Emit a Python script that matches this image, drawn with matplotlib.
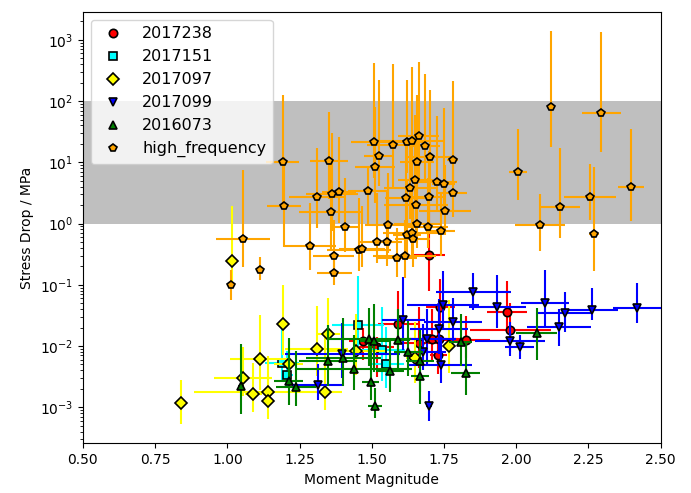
import numpy as np
import matplotlib
matplotlib.use("Agg")
import matplotlib.pyplot as plt

# --- data (magnitude, stress drop MPa, mag error, log10 error down/up) ---
r_mag = [1.699, 1.471, 1.517, 1.592, 1.664, 1.707, 1.733, 1.730, 1.737, 1.828, 1.969, 1.979]
r_sd = [0.31, 0.012, 0.0097, 0.0225, 0.011, 0.0128, 0.013, 0.007, 0.044, 0.0125, 0.0358, 0.018]
r_xerr = [0.055, 0.05, 0.06, 0.07, 0.08, 0.09, 0.1, 0.03, 0.05, 0.08, 0.07, 0.14]
r_dn = [0.60, 0.31, 0.49, 0.45, 0.4, 0.35, 0.4, 0.3, 0.3, 0.3, 0.3, 0.35]
r_up = [0.81, 0.21, 0.16, 0.55, 0.6, 0.5, 0.55, 0.45, 0.45, 0.4, 0.5, 0.45]

c_mag = [1.453, 1.189, 1.207, 1.535, 1.551]
c_sd = [0.0222, 0.0052, 0.0033, 0.0086, 0.0051]
c_xerr = [0.09, 0.06, 0.02, 0.08, 0.06]
c_dn = [0.5, 0.3, 0.2, 0.5, 0.4]
c_up = [0.8, 0.6, 0.4, 0.7, 0.6]

y_mag = [0.840, 1.017, 1.191, 1.349, 1.309, 1.445, 1.113, 1.212, 1.053, 1.090, 1.142, 1.142, 1.338, 1.648, 1.766]
y_sd = [0.00118, 0.241, 0.0225, 0.0155, 0.0090, 0.0084, 0.0061, 0.0051, 0.0030, 0.00164, 0.00175, 0.00127, 0.00177, 0.0063, 0.0101]
y_xerr = [0.01, 0.01, 0.01, 0.04, 0.11, 0.1, 0.105, 0.05, 0.1, 0.03, 0.256, 0.02, 0.03, 0.03, 0.02]
y_dn = [0.35, 0.38, 0.5, 0.4, 0.45, 0.4, 0.5, 0.4, 0.3, 0.3, 0.25, 0.3, 0.3, 0.4, 0.45]
y_up = [0.37, 0.9, 0.65, 0.6, 0.7, 0.6, 0.72, 0.39, 0.5, 0.5, 0.6, 0.4, 0.9, 0.6, 0.75]

b_mag = [1.398, 1.315, 1.609, 1.748, 1.782, 1.733, 1.692, 1.676, 1.738, 1.698, 1.851, 1.935, 1.979, 2.013, 2.100, 2.169, 2.148, 2.261, 2.419]
b_sd = [0.0075, 0.0023, 0.027, 0.047, 0.0243, 0.0187, 0.0128, 0.008, 0.0049, 0.00104, 0.077, 0.043, 0.0122, 0.0097, 0.051, 0.034, 0.0201, 0.0386, 0.042]
b_xerr = [0.2, 0.09, 0.075, 0.125, 0.1, 0.1, 0.1, 0.08, 0.11, 0.01, 0.13, 0.1, 0.12, 0.05, 0.083, 0.093, 0.11, 0.09, 0.085]
b_dn = [0.4, 0.25, 0.5, 0.4, 0.3, 0.4, 0.4, 0.3, 0.3, 0.25, 0.3, 0.34, 0.25, 0.2, 0.4, 0.3, 0.3, 0.17, 0.25]
b_up = [0.5, 0.35, 0.7, 0.55, 0.4, 0.5, 0.5, 0.45, 0.45, 0.25, 0.3, 0.53, 0.3, 0.2, 0.53, 0.35, 0.3, 0.36, 0.4]

g_mag = [1.046, 1.238, 1.212, 1.349, 1.401, 1.440, 1.490, 1.508, 1.496, 1.511, 1.591, 1.626, 1.563, 1.667, 1.667, 1.808, 1.826, 2.071]
g_sd = [0.0022, 0.0021, 0.0027, 0.0056, 0.0063, 0.0042, 0.0131, 0.012, 0.0026, 0.00104, 0.0125, 0.008, 0.0039, 0.0032, 0.0057, 0.0117, 0.0036, 0.0164]
g_xerr = [0.01, 0.07, 0.05, 0.1, 0.13, 0.2, 0.145, 0.05, 0.03, 0.025, 0.04, 0.05, 0.05, 0.03, 0.05, 0.04, 0.05, 0.07]
g_dn = [0.45, 0.3, 0.4, 0.4, 0.45, 0.35, 0.45, 0.5, 0.3, 0.2, 0.5, 0.4, 0.35, 0.45, 0.5, 0.4, 0.35, 0.45]
g_up = [0.69, 0.6, 0.7, 0.6, 0.65, 0.55, 0.5, 0.6, 0.6, 0.3, 0.5, 0.5, 0.5, 0.5, 0.5, 0.45, 0.5, 0.4]

hf_mag = [2.119, 2.295, 2.006, 2.397, 2.256, 2.152, 2.082, 2.269,
          1.1925, 1.196, 1.055, 1.112, 1.011, 1.352, 1.312, 1.364, 1.387, 1.359, 1.408,
          1.285, 1.368, 1.370, 1.456, 1.465,
          1.508, 1.572, 1.621, 1.639, 1.662, 1.685, 1.524, 1.700, 1.512, 1.657, 1.780,
          1.651, 1.726, 1.749, 1.634, 1.487, 1.781, 1.617, 1.697, 1.654, 1.753,
          1.556, 1.657, 1.694, 1.739, 1.622, 1.639, 1.642, 1.519, 1.553, 1.588, 1.614]
hf_sd = [79, 65, 6.95, 4.0, 2.71, 1.86, 0.93, 0.67,
         10.0, 1.91, 0.565, 0.176, 0.099, 10.4, 2.68, 3.0, 3.24, 1.52, 0.87,
         0.43, 0.29, 0.155, 0.37, 0.39,
         21.7, 19.2, 21.2, 22.5, 27.2, 18.7, 12.8, 12.2, 8.5, 10.0, 10.8,
         5.1, 4.8, 4.5, 3.76, 3.4, 3.18, 2.64, 2.68, 2.0, 1.62,
         0.94, 0.99, 0.89, 0.75, 0.64, 0.69, 0.55, 0.50, 0.50, 0.27, 0.29]
hf_xerr = [0.01, 0.067, 0.032, 0.044, 0.09, 0.07, 0.087, 0.018,
           0.057, 0.058, 0.093, 0.01, 0.01, 0.065, 0.10, 0.09, 0.06, 0.11, 0.05,
           0.09, 0.07, 0.06, 0.11, 0.08,
           0.08, 0.09, 0.06, 0.11, 0.07, 0.05, 0.05, 0.08, 0.07, 0.06, 0.02,
           0.06, 0.07, 0.04, 0.09, 0.07, 0.05, 0.07, 0.06, 0.11, 0.09,
           0.08, 0.08, 0.07, 0.05, 0.05, 0.10, 0.06, 0.06, 0.05, 0.07, 0.11]
hf_dn = [0.64, 0.64, 0.45, 0.56, 0.37, 0.50, 0.41, 0.60,
         0.70, 0.66, 0.46, 0.17, 0.25, 0.62, 0.50, 0.60, 0.50, 0.60, 0.40,
         0.40, 0.30, 0.20, 0.35, 0.30,
         0.60, 0.70, 0.50, 0.60, 0.70, 0.60, 0.50, 0.60, 0.60, 0.50, 0.40,
         0.45, 0.50, 0.40, 0.50, 0.55, 0.40, 0.45, 0.45, 0.40, 0.40,
         0.45, 0.40, 0.35, 0.40, 0.40, 0.35, 0.45, 0.35, 0.40, 0.30, 0.35]
hf_up = [1.25, 1.31, 0.70, 0.95, 0.54, 0.96, 0.52, 1.10,
         1.10, 0.80, 1.12, 0.20, 0.24, 0.80, 0.80, 1.00, 0.90, 0.90, 0.80,
         0.70, 0.60, 0.30, 0.85, 0.70,
         1.28, 1.32, 1.02, 1.20, 1.20, 1.17, 1.24, 1.09, 0.97, 1.10, 1.29,
         1.06, 1.07, 1.23, 0.80, 0.40, 0.70, 0.90, 0.75, 0.80, 0.75,
         0.85, 0.70, 0.80, 0.60, 0.90, 0.70, 0.60, 0.80, 0.85, 0.50, 0.60]

groups = [
    ("2017238", "o", "red", r_mag, r_sd, r_xerr, r_dn, r_up),
    ("2017151", "s", "cyan", c_mag, c_sd, c_xerr, c_dn, c_up),
    ("2017097", "D", "yellow", y_mag, y_sd, y_xerr, y_dn, y_up),
    ("2017099", "v", "blue", b_mag, b_sd, b_xerr, b_dn, b_up),
    ("2016073", "^", "green", g_mag, g_sd, g_xerr, g_dn, g_up),
    ("high_frequency", "p", "orange", hf_mag, hf_sd, hf_xerr, hf_dn, hf_up),
]

fig = plt.figure(figsize=(6.91, 4.93), dpi=100)
ax = fig.add_axes([0.120, 0.1008, 0.836, 0.8749])

# typical stress drop range
ax.axhspan(1, 100, color="#bfbfbf", zorder=0, lw=0)

for label, marker, color, mag, sd, xerr, dn, up in groups:
    sd = np.array(sd)
    lo = sd - sd / 10 ** np.array(dn)
    hi = sd * 10 ** np.array(up) - sd
    ax.errorbar(mag, sd, xerr=xerr, yerr=[lo, hi], fmt="none", ecolor=color, elinewidth=1.5)
    ms = 6.5 if marker == "D" else 6
    ax.plot(mag, sd, ls="none", marker=marker, mfc=color, mec="k", mew=1.2, ms=ms, label=label)

ax.set_yscale("log")
ax.set_xlim(0.5, 2.5)
ax.set_ylim(2.57e-4, 2860)
ax.set_xlabel("Moment Magnitude")
ax.set_ylabel("Stress Drop / MPa")
ax.legend(loc="upper left", fontsize=11.5)

fig.savefig("out.png", dpi=100)
